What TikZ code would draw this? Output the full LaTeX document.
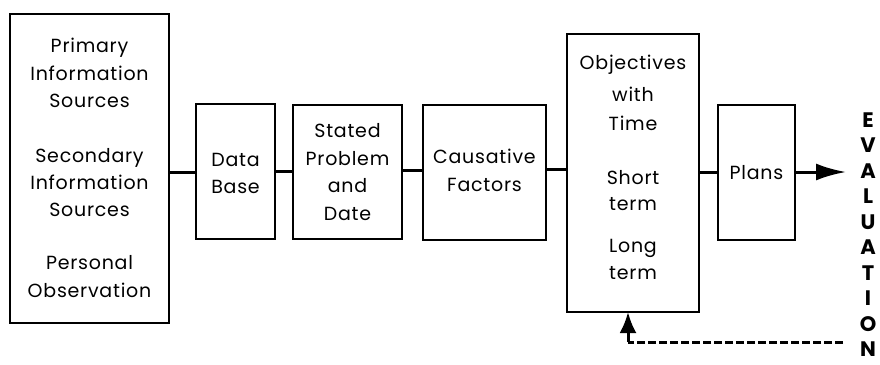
\documentclass[tikz,border=0pt]{standalone}
\usepackage{fontspec}
\setmainfont{Poppins}
\newfontfamily\lblfont[LetterSpace=4]{Poppins}
\usetikzlibrary{arrows.meta}
\begin{document}
\begin{tikzpicture}[x=1pt,y=-1pt,
  blk/.style={draw,line width=1.8pt},
  lbl/.style={font=\lblfont\fontsize{19}{19}\selectfont,inner sep=0pt,anchor=base},
  conn/.style={line width=3pt},
  ev/.style={font=\fontsize{21}{21}\selectfont\bfseries,inner sep=0pt}]
\useasboundingbox (0,0) rectangle (880,364);
% boxes
\path[blk] (10,14) rectangle (169,323);
\node[blk,inner sep=0pt,minimum width=79pt,minimum height=135pt] (db) at (235.5,171.5) {};
\node[blk,inner sep=0pt,minimum width=109pt,minimum height=134pt] (sp) at (347.5,172) {};
\node[blk,inner sep=0pt,minimum width=123pt,minimum height=135pt] (cf) at (484.5,172.5) {};
\node[blk,inner sep=0pt,minimum width=132pt,minimum height=278pt] (ob) at (633,173) {};
\node[blk,inner sep=0pt,minimum width=77pt,minimum height=135pt] (pl) at (756.5,172.5) {};
\coordinate (src) at (169,172);
% texts box 1
\node[lbl] (t1) at (89.5,52) {Primary};
\node[lbl] (t2) at (89.5,80) {Information};
\node[lbl] (t3) at (89.5,107) {Sources};
\node[lbl] (t4) at (89.5,162) {Secondary};
\node[lbl] (t5) at (89.5,189) {Information};
\node[lbl] (t6) at (89.5,216) {Sources};
\node[lbl] (t7) at (89.5,269) {Personal};
\node[lbl] (t8) at (89.5,297) {Observation};
% data base
\node[lbl] (d1) at (235.5,166) {Data};
\node[lbl] (d2) at (235.5,193) {Base};
% stated
\node[lbl] (s1) at (347.5,137) {Stated};
\node[lbl] (s2) at (347.5,165) {Problem};
\node[lbl] (s3) at (347.5,192) {and};
\node[lbl] (s4) at (347.5,220) {Date};
% causative
\node[lbl] (c1) at (484.5,163) {Causative};
\node[lbl] (c2) at (484.5,191) {Factors};
% objectives
\node[lbl] (o1) at (633,69) {Objectives};
\node[lbl] (o2) at (633,101) {with};
\node[lbl] (o3) at (633,130) {Time};
\node[lbl] (o4) at (633,184) {Short};
\node[lbl] (o5) at (633,210) {term};
\node[lbl] (o6) at (633,252) {Long};
\node[lbl] (o7) at (633,279) {term};
% plans
\node[lbl] (p1) at (756.5,179) {Plans};
% evaluation
\foreach \ch [count=\i from 0] in {E,V,A,L,U,A,T,I,O,N}
  \node[ev] (e\i) at (868,{120+25.5*\i}) {\ch};
\coordinate (arrend) at (846,172);
\coordinate (dashR) at (843,342);
\coordinate (dashL) at (628,342);
\coordinate (obbot) at (628,312);
% connectors
\draw[conn] (src) -- (db.west |- src);
\draw[conn] (db.east |- 0,171) -- (sp.west |- 0,171);
\draw[conn] (sp.east |- 0,170) -- (cf.west |- 0,170);
\draw[conn] (cf.east |- 0,169) -- (ob.west |- 0,169);
\draw[conn] (ob.east |- 0,172) -- (pl.west |- 0,172);
\draw[conn,-{Latex[length=30pt,width=17pt]}] (pl.east |- 0,172) -- (arrend);
\draw[line width=3pt,dash pattern=on 8pt off 3pt] (dashR) -- (dashL);
\draw[line width=3pt,-{Latex[length=21pt,width=17pt]}] (dashL) -- (obbot);
\end{tikzpicture}
\end{document}
